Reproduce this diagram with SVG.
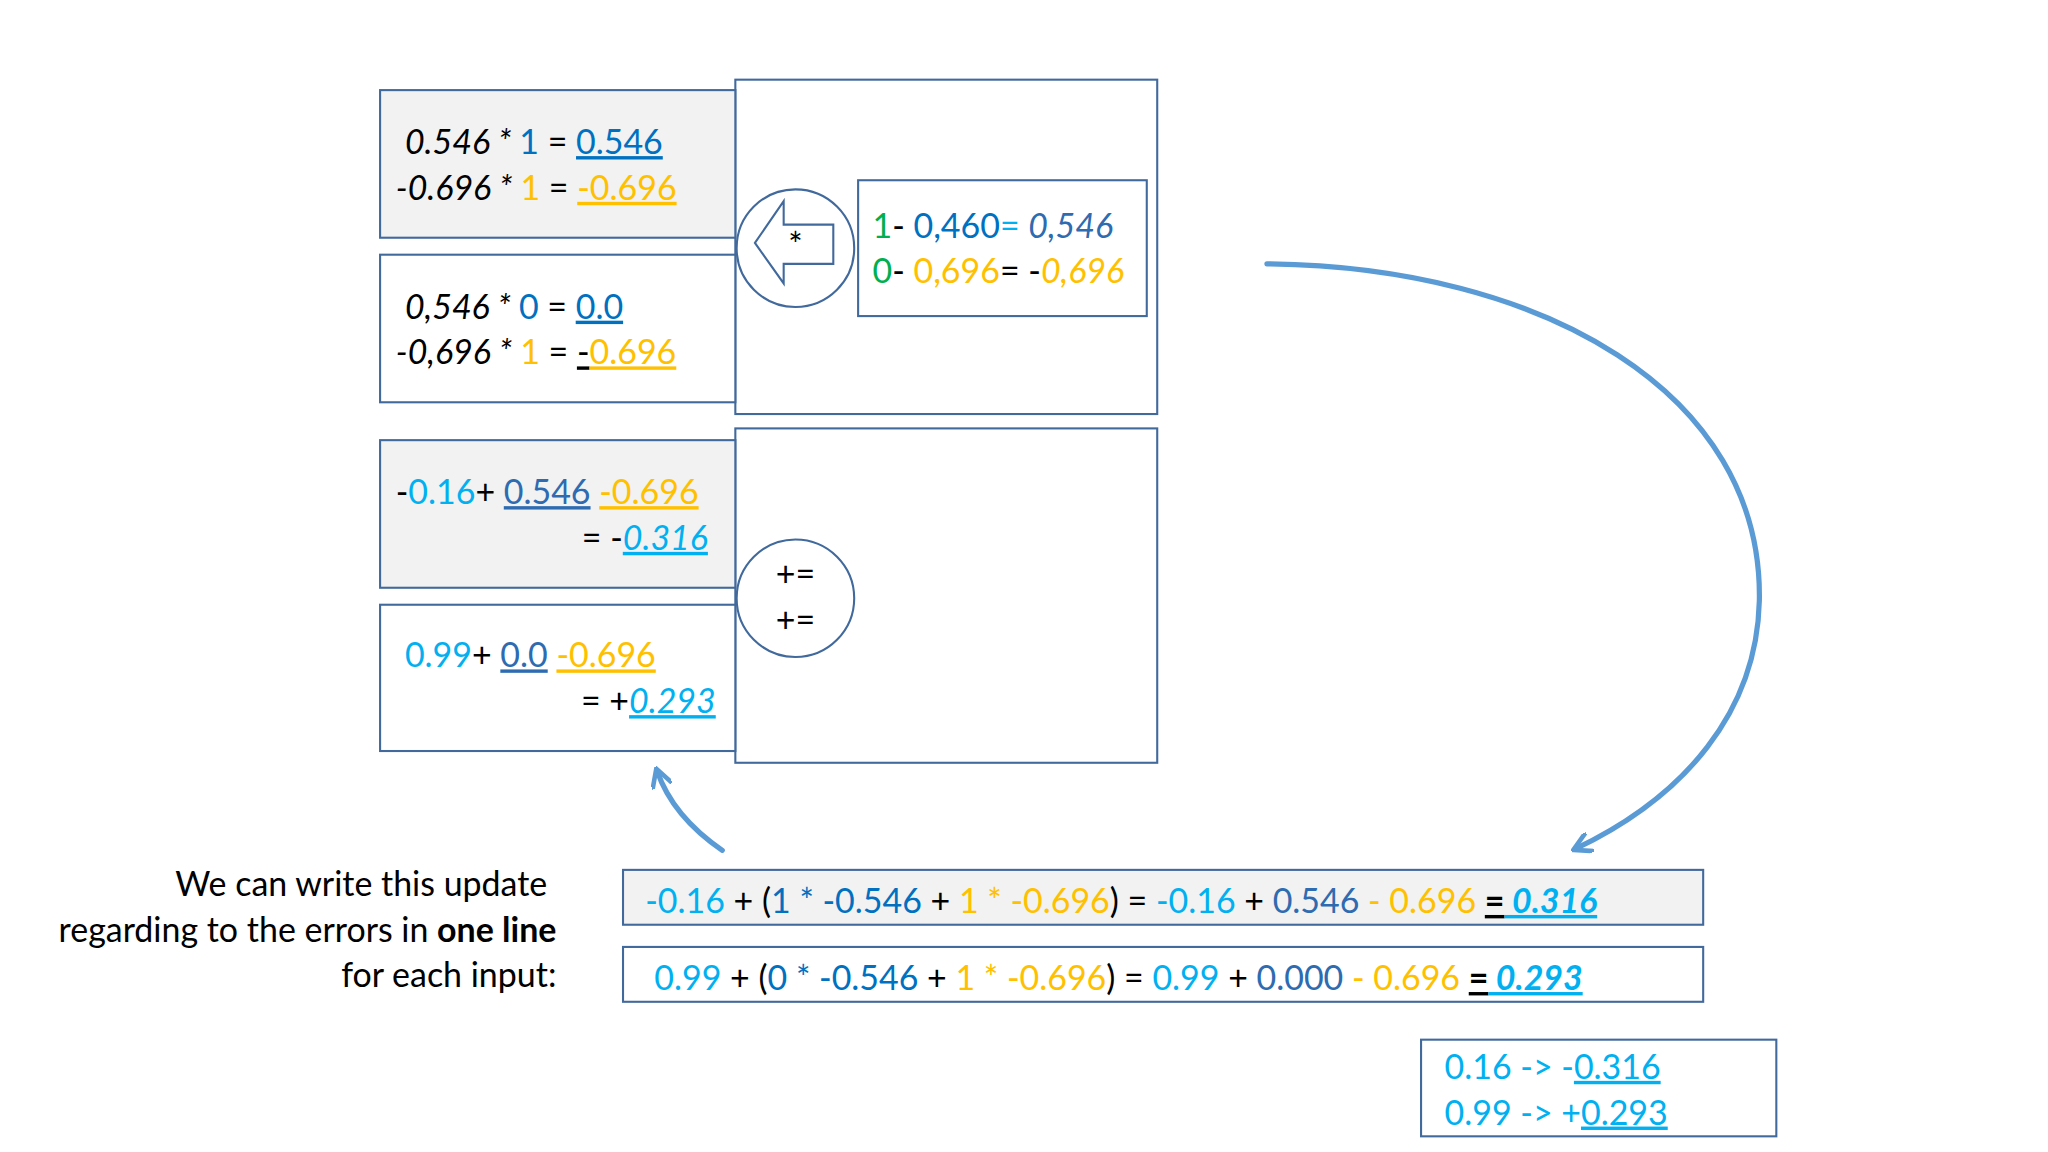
<svg xmlns="http://www.w3.org/2000/svg" width="2048" height="1152" viewBox="0 0 2048 1152">
<defs>
<style>
.b{fill:#fff;stroke:#41699c;stroke-width:1.6}
.g{fill:#f2f2f2;stroke:#41699c;stroke-width:1.6}
text{font-family:Lato,"Liberation Sans",sans-serif;font-size:26px;fill:#000}
.it{font-style:italic}
.db{fill:#0070c0}.or{fill:#ffc000}.lb{fill:#00b0f0}.gr{fill:#00b050}.nb{fill:#2e6bb0}
.u{text-decoration:underline}
.bo{font-weight:bold}
.c{fill:none;stroke:#5b9bd5;stroke-width:4;stroke-linecap:round}
</style>
<marker id="ah" viewBox="0 0 10 10" refX="8" refY="5" markerWidth="4" markerHeight="4" orient="auto"><path d="M0,0 L9,5 L0,10" fill="none" stroke="#5b9bd5" stroke-width="2.2"/></marker>
</defs>
<rect width="2048" height="1152" fill="#fff"/>
<g transform="scale(1.30612)">
<g id="bigTop"><rect class="b" x="563" y="61" width="323" height="256"/></g>
<g id="bigBottom"><rect class="b" x="563" y="328" width="323" height="256"/></g>
<g id="boxA"><rect class="g" x="291" y="69" width="272" height="113"/>
<text x="310" y="118" class="it">0.546 * <tspan class="db" font-style="normal">1</tspan><tspan font-style="normal"> = </tspan><tspan class="db u" font-style="normal"> 0.546</tspan></text>
<text x="303" y="153" class="it">-0.696 * <tspan class="or" font-style="normal">1</tspan><tspan font-style="normal"> = </tspan><tspan class="or u" font-style="normal">-0.696</tspan></text></g>
<g id="boxB"><rect class="b" x="291" y="195" width="272" height="113"/>
<text x="310" y="244" class="it">0,546 * <tspan class="db" font-style="normal">0</tspan><tspan font-style="normal">  =  </tspan><tspan class="db u" font-style="normal">0.0</tspan></text>
<text x="303" y="279" class="it">-0,696 * <tspan class="or" font-style="normal">1</tspan><tspan font-style="normal">  = </tspan><tspan class="u" font-style="normal">-</tspan><tspan class="or u" font-style="normal">0.696</tspan></text></g>
<g id="mulOp"><circle class="b" cx="609" cy="190" r="45"/>
<path d="M578,186 L600,154 L600,172 L638,172 L638,202 L600,202 L600,217 Z" fill="#fff" stroke="#41699c" stroke-width="1.6"/>
<text x="609" y="197" text-anchor="middle" font-size="22">*</text></g>
<g id="diff"><rect class="b" x="657" y="138" width="221" height="104"/>
<text x="668" y="182"><tspan class="gr">1</tspan>- <tspan class="db">0,460</tspan><tspan class="lb">=</tspan>  <tspan class="nb it">0,546</tspan></text>
<text x="668" y="217"><tspan class="gr">0</tspan>- <tspan class="or">0,696</tspan>= -<tspan class="or it">0,696</tspan></text></g>
<g id="boxC"><rect class="g" x="291" y="337" width="272" height="113"/>
<text x="303" y="386">-<tspan class="lb">0.16</tspan>+ <tspan class="nb u">0.546</tspan> <tspan class="or u">-0.696</tspan></text>
<text x="542" y="421" text-anchor="end">= -<tspan class="lb u it">0.316</tspan></text></g>
<g id="boxD"><rect class="b" x="291" y="463" width="272" height="112"/>
<text x="310" y="511"><tspan class="lb">0.99</tspan>+ <tspan class="nb u">0.0</tspan>  <tspan class="or u">-0.696</tspan></text>
<text x="548" y="546" text-anchor="end">= +<tspan class="lb u it">0.293</tspan></text></g>
<g id="addOp"><circle class="b" cx="609" cy="458" r="45"/>
<text x="609" y="449" text-anchor="middle" font-size="22">+=</text>
<text x="609" y="484" text-anchor="middle" font-size="22">+=</text></g>
<g id="connectors">
<path class="c" d="M970,202 C1180,204 1350,300 1347,460 C1345,545 1290,610 1206,650" marker-end="url(#ah)"/>
<path class="c" d="M553,651 Q515,625 503,590" marker-end="url(#ah)"/>
</g>
<g id="caption">
<text x="419" y="686" text-anchor="end">We can write this update</text>
<text x="426" y="721" text-anchor="end">regarding to the errors in <tspan class="bo">one line</tspan></text>
<text x="426" y="756" text-anchor="end">for each input:</text></g>
<g id="eq1"><rect class="g" x="477" y="666" width="827" height="42"/>
<text x="494" y="699" font-size="25"><tspan class="lb">-0.16</tspan> + (<tspan class="db">1 * -0.546</tspan>  +  <tspan class="or">1 * -0.696</tspan>) = <tspan class="lb">-0.16</tspan> +  <tspan class="nb">0.546</tspan> <tspan class="or">- 0.696</tspan>  <tspan class="u bo">=</tspan><tspan class="lb u bo it"> 0.316</tspan></text></g>
<g id="eq2"><rect class="b" x="477" y="725" width="827" height="42"/>
<text x="501" y="758" font-size="25"><tspan class="lb">0.99</tspan> + (<tspan class="db">0 * -0.546</tspan>  +  <tspan class="or">1 * -0.696</tspan>) =  <tspan class="lb">0.99</tspan> +  <tspan class="nb">0.000</tspan> <tspan class="or">- 0.696</tspan>  <tspan class="u bo">=</tspan><tspan class="lb u bo it"> 0.293</tspan></text></g>
<g id="result"><rect class="b" x="1088" y="796" width="272" height="74"/>
<text x="1106" y="826" class="lb">0.16   -&gt;  -<tspan class="u">0.316</tspan></text>
<text x="1106" y="861" class="lb">0.99   -&gt;  +<tspan class="u">0.293</tspan></text></g>
</g>
</svg>
